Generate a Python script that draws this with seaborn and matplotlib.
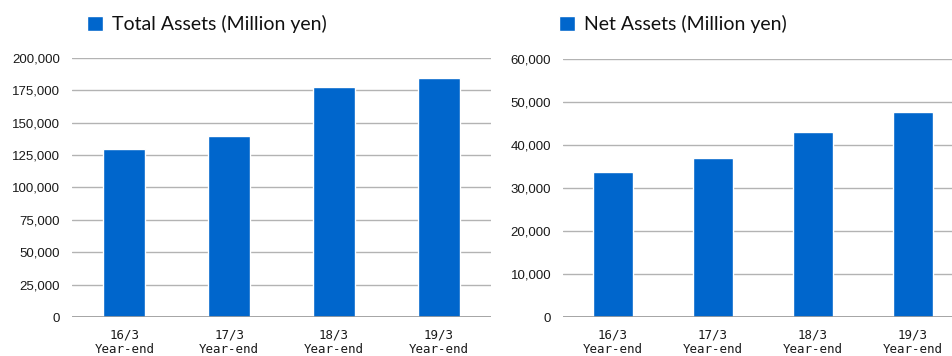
import matplotlib
matplotlib.use("Agg")
import matplotlib.pyplot as plt
import seaborn as sns
import pandas as pd
from matplotlib.ticker import FuncFormatter

categories = ["16/3\nYear-end", "17/3\nYear-end", "18/3\nYear-end", "19/3\nYear-end"]
total_assets = [129700, 139800, 177600, 184600]
net_assets = [33700, 37000, 43000, 47700]
total_ticks = [0, 25000, 50000, 75000, 100000, 125000, 150000, 175000, 200000]
net_ticks = [0, 10000, 20000, 30000, 40000, 50000, 60000]

sns.set_theme(style="white")
plt.rcParams['font.family'] = ['Liberation Sans', 'DejaVu Sans']

BLUE = "#0066CC"
fig = plt.figure(figsize=(9.52, 3.56), dpi=100)
H = 356.0
W = 952.0
ax1 = fig.add_axes([72 / W, 39 / H, (491 - 72) / W, (317 - 58) / H])
ax2 = fig.add_axes([563 / W, 39 / H, (952 - 563) / W, (317 - 59) / H])

df1 = pd.DataFrame({"cat": categories, "val": total_assets})
df2 = pd.DataFrame({"cat": categories, "val": net_assets})

sns.barplot(data=df1, x="cat", y="val", color=BLUE, width=0.4, ax=ax1,
            label="Total Assets (Million yen)", saturation=1, zorder=3)
sns.barplot(data=df2, x="cat", y="val", color=BLUE, width=0.4, ax=ax2,
            label="Net Assets (Million yen)", saturation=1, zorder=3)

fmt = FuncFormatter(lambda v, p: f"{int(v):,}")
for ax, ticks, xmax, lx in [(ax1, total_ticks, 3.5, 87 / W), (ax2, net_ticks, 3.39, 559 / W)]:
    ax.set_ylim(0, ticks[-1])
    ax.set_yticks(ticks)
    ax.yaxis.set_major_formatter(fmt)
    ax.set_xlim(-0.5, xmax)
    ax.set_xlabel("")
    ax.set_ylabel("")
    for s in ax.spines.values():
        s.set_visible(False)
    ax.grid(axis="y", color="#b3b3b3", linewidth=1.0, zorder=0)
    ax.grid(axis="x", visible=False)
    ax.set_axisbelow(True)
    ax.tick_params(axis="y", length=0, pad=8.5, labelsize=9.5, labelcolor="#1a1a1a")
    ax.tick_params(axis="x", length=0, pad=8.5, labelsize=9, labelcolor="#1a1a1a")
    for t in ax.get_xticklabels():
        t.set_fontfamily(['DejaVu Sans Mono', 'DejaVu Sans'])
        t.set_linespacing(1.1)
    ax.axhline(0, color="#999999", linewidth=1.2, zorder=4)
    leg = ax.legend(loc="upper left", bbox_to_anchor=(lx, 1 - 15 / H), bbox_transform=fig.transFigure,
                    frameon=False, prop={"family": "Lato", "size": 14},
                    handlelength=0.83, handleheight=0.77,
                    handletextpad=0.46, borderaxespad=0, borderpad=0)
    for t in leg.get_texts():
        t.set_color("#111111")

fig.savefig("out.png", dpi=100)
